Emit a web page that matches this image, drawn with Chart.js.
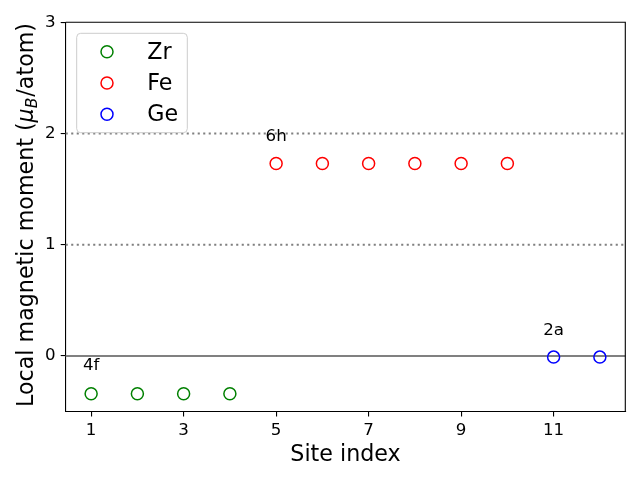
<!DOCTYPE html>
<html><head><meta charset="utf-8">
<script src="https://cdn.jsdelivr.net/npm/chart.js@4"></script>
<style>html,body{margin:0;padding:0;background:#fff}</style>
</head><body>
<canvas id="c" width="640" height="480" style="width:640px;height:480px;display:block"></canvas>
<script>
// ---- data ----
const zrSites = [1, 2, 3, 4];
const zrMoments = [-0.34, -0.34, -0.34, -0.34];
const feSites = [5, 6, 7, 8, 9, 10];
const feMoments = [1.73, 1.73, 1.73, 1.73, 1.73, 1.73];
const geSites = [11, 12];
const geMoments = [-0.01, -0.01];
const xTicks = [1, 3, 5, 7, 9, 11];
const yTicks = [0, 1, 2, 3];
const refLevels = [0, 1, 2];
const refDotted = [false, true, true];
const wyckoffLabels = ['4f', '6h', '2a'];
const wyckoffX = [1, 5, 11];
const wyckoffY = [-0.125, 1.93, 0.19];

const FAM = '"DejaVu Sans", sans-serif';
const pts = (xs, ys) => xs.map((v, i) => ({x: v, y: ys[i]}));

const decor = {
  id: 'decor',
  beforeDatasetsDraw(chart) {
    const {ctx, chartArea: a, scales: {y}} = chart;
    ctx.save();
    refLevels.forEach((v, i) => {
      const py = y.getPixelForValue(v);
      ctx.beginPath();
      ctx.strokeStyle = '#808080';
      ctx.lineWidth = 2;
      ctx.lineCap = 'butt';
      ctx.setLineDash(refDotted[i] ? [2.1, 3.4] : []);
      ctx.moveTo(a.left, py); ctx.lineTo(a.right, py);
      ctx.stroke();
    });
    ctx.restore();
  },
  afterDatasetsDraw(chart) {
    const {ctx, chartArea: a, scales: {x, y}} = chart;
    ctx.save();
    // frame top/right
    ctx.strokeStyle = '#000'; ctx.lineWidth = 1.1; ctx.setLineDash([]);
    ctx.beginPath();
    ctx.moveTo(a.left, a.top); ctx.lineTo(a.right, a.top); ctx.lineTo(a.right, a.bottom);
    ctx.stroke();
    // annotations
    ctx.fillStyle = '#000';
    ctx.font = '16.67px ' + FAM;
    ctx.textAlign = 'center'; ctx.textBaseline = 'alphabetic';
    wyckoffLabels.forEach((t, i) => {
      ctx.fillText(t, x.getPixelForValue(wyckoffX[i]), y.getPixelForValue(wyckoffY[i]));
    });
    // legend
    const lx = 76.7, ly = 33.3, lw = 110.6, lh = 99.4, r = 4;
    ctx.beginPath();
    ctx.moveTo(lx + r, ly); ctx.lineTo(lx + lw - r, ly); ctx.quadraticCurveTo(lx + lw, ly, lx + lw, ly + r);
    ctx.lineTo(lx + lw, ly + lh - r); ctx.quadraticCurveTo(lx + lw, ly + lh, lx + lw - r, ly + lh);
    ctx.lineTo(lx + r, ly + lh); ctx.quadraticCurveTo(lx, ly + lh, lx, ly + lh - r);
    ctx.lineTo(lx, ly + r); ctx.quadraticCurveTo(lx, ly, lx + r, ly);
    ctx.closePath();
    ctx.fillStyle = 'rgba(255,255,255,0.8)'; ctx.fill();
    ctx.strokeStyle = '#cccccc'; ctx.lineWidth = 1; ctx.stroke();
    ctx.textAlign = 'left';
    ctx.font = '22.2px ' + FAM;
    chart.data.datasets.forEach((ds, i) => {
      const cy = 51.8 + i * 31.2;
      ctx.beginPath();
      ctx.arc(107, cy, 6, 0, Math.PI * 2);
      ctx.strokeStyle = ds.borderColor; ctx.lineWidth = 1.5; ctx.stroke();
      ctx.fillStyle = '#000';
      ctx.fillText(ds.label, 147.3, cy + 6.8);
    });
    // x title
    ctx.textAlign = 'center';
    ctx.fillText('Site index', (a.left + a.right) / 2, 461);
    // y title with math
    const s1 = 'Local magnetic moment (', s4 = '/atom)';
    const fN = '22.2px ' + FAM, fI = 'italic 22.2px ' + FAM, fS = 'italic 15.5px ' + FAM;
    ctx.font = fN; const w1 = ctx.measureText(s1).width, w4 = ctx.measureText(s4).width;
    ctx.font = fI; const w2 = ctx.measureText('\u03bc').width;
    ctx.font = fS; const w3 = ctx.measureText('B').width;
    const tot = w1 + w2 + w3 + 1 + w4;
    ctx.translate(33.3, 215);
    ctx.rotate(-Math.PI / 2);
    ctx.textAlign = 'left';
    let cx = -tot / 2;
    ctx.font = fN; ctx.fillText(s1, cx, 0); cx += w1;
    ctx.font = fI; ctx.fillText('\u03bc', cx, 0); cx += w2;
    ctx.font = fS; ctx.fillText('B', cx, 4); cx += w3 + 1;
    ctx.font = fN; ctx.fillText(s4, cx, 0);
    ctx.restore();
  }
};

const common = {pointStyle: 'circle', pointRadius: 6, pointHoverRadius: 6, pointBorderWidth: 1.5, backgroundColor: 'rgba(0,0,0,0)', showLine: false};

new Chart(document.getElementById('c'), {
  type: 'scatter',
  data: {
    datasets: [
      Object.assign({label: 'Zr', data: pts(zrSites, zrMoments), borderColor: '#008000'}, common),
      Object.assign({label: 'Fe', data: pts(feSites, feMoments), borderColor: '#ff0000'}, common),
      Object.assign({label: 'Ge', data: pts(geSites, geMoments), borderColor: '#0000ff'}, common)
    ]
  },
  options: {
    responsive: false, animation: false, devicePixelRatio: 1,
    layout: {padding: {top: 22.3, right: 14.7, left: 0, bottom: 0}},
    plugins: {legend: {display: false}, tooltip: {enabled: false}},
    scales: {
      x: {
        type: 'linear', min: 0.45, max: 12.55,
        afterBuildTicks: s => { s.ticks = xTicks.map(v => ({value: v})); },
        afterFit: s => { s.height = 68.4; },
        grid: {drawOnChartArea: false, tickLength: 5, color: '#000', lineWidth: 1.1},
        border: {display: true, color: '#000', width: 1.1},
        ticks: {color: '#000', font: {family: FAM, size: 16.67}, padding: 4, maxRotation: 0, autoSkip: false}
      },
      y: {
        type: 'linear', min: -0.5, max: 3,
        afterBuildTicks: s => { s.ticks = yTicks.map(v => ({value: v})); },
        afterFit: s => { s.width = 65.7; },
        grid: {drawOnChartArea: false, tickLength: 5, color: '#000', lineWidth: 1.1},
        border: {display: true, color: '#000', width: 1.1},
        ticks: {color: '#000', font: {family: FAM, size: 16.67}, padding: 5, autoSkip: false}
      }
    }
  },
  plugins: [decor]
});
</script>
</body></html>
